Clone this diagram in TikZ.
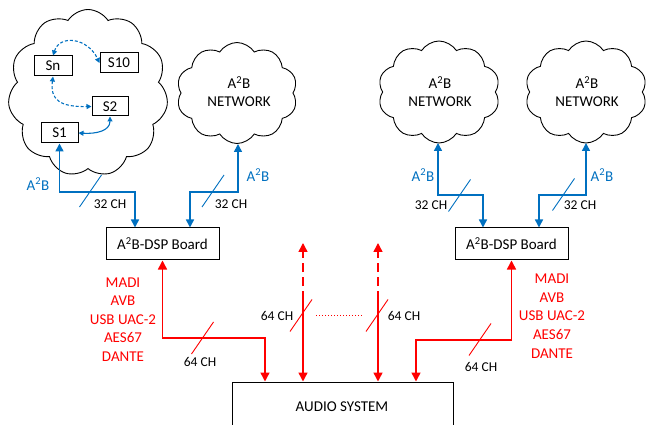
\documentclass[tikz,border=0pt]{standalone}
\usepackage{fontspec}
\setmainfont{Carlito}
\usetikzlibrary{arrows.meta,shapes.symbols}
\definecolor{ablue}{RGB}{0,112,192}
\definecolor{ared}{RGB}{255,0,0}
\begin{document}
\begin{tikzpicture}[x=1pt,y=-1pt,
  txt/.style={font=\fontsize{15}{18}\selectfont},
  chtxt/.style={font=\fontsize{13.5}{16}\selectfont},
  box/.style={draw,line width=1pt,inner sep=0pt,txt},
  cloudshape/.style={draw,cloud,cloud ignores aspect,line width=0.9pt,inner sep=0pt},
  btip/.style={Triangle[length=8pt,width=8pt]},
  rtip/.style={Triangle[length=9pt,width=9pt]},
  stip/.style={Triangle[length=5pt,width=5pt]},
  bluewire/.style={draw=ablue,line width=1.5pt,{Triangle[length=8pt,width=8pt]}-{Triangle[length=8pt,width=8pt]}},
  redwire/.style={draw=ared,line width=1.5pt},
  slashline/.style={line width=0.9pt},
  innerlink/.style={draw=ablue,line width=1.1pt},
  bluelabel/.style={txt,text=ablue,inner sep=0pt},
  redlabel/.style={font=\fontsize{15}{18.6}\selectfont,text=ared,align=center,inner sep=0pt},
]
\useasboundingbox (0,0) rectangle (646,425);

% clouds
\node[cloudshape,cloud puffs=11,cloud puff arc=115,minimum width=160pt,minimum height=167pt] (cl1) at (88,93) {};
\node[cloudshape,cloud puffs=10,cloud puff arc=115,minimum width=121pt,minimum height=101pt] (cl2) at (237,93) {};
\node[cloudshape,cloud puffs=10,cloud puff arc=115,minimum width=122pt,minimum height=102pt] (cl3) at (439,92) {};
\node[cloudshape,cloud puffs=10,cloud puff arc=115,minimum width=122pt,minimum height=102pt] (cl4) at (586,92) {};

\node[txt,align=center,inner sep=0pt] (n2) at (239,92) {A\textsuperscript{2}B\\NETWORK};
\node[txt,align=center,inner sep=0pt] (n3) at (440,92) {A\textsuperscript{2}B\\NETWORK};
\node[txt,align=center,inner sep=0pt] (n4) at (587,92) {A\textsuperscript{2}B\\NETWORK};

% slave boxes
\node[box,minimum width=38pt,minimum height=20pt] (Sn) at (53,66) {Sn};
\node[box,minimum width=38pt,minimum height=20pt] (S10) at (119,63) {S10};
\node[box,minimum width=36pt,minimum height=19pt] (S2) at (110,106.5) {S2};
\node[box,minimum width=37pt,minimum height=20pt] (S1) at (59.5,133) {S1};

\draw[innerlink,dash pattern=on 3pt off 2pt,{Triangle[length=5pt,width=5pt]}-{Triangle[length=5pt,width=5pt]}]
  (Sn.north) .. controls (60,34) and (88,38) .. (S10.west);
\draw[innerlink,dash pattern=on 3pt off 2pt,{Triangle[length=5pt,width=5pt]}-{Triangle[length=5pt,width=5pt]}]
  (Sn.south) .. controls (50,100) and (60,107) .. (S2.west);
\draw[innerlink,{Triangle[length=5pt,width=5pt]}-{Triangle[length=5pt,width=5pt]}]
  (S1.east) .. controls (96,134) and (110,131) .. (S2.south);

% DSP boards and audio system
\node[box,minimum width=113pt,minimum height=32pt] (dspL) at (162.5,244) {A\textsuperscript{2}B-DSP Board};
\node[box,minimum width=113pt,minimum height=32pt] (dspR) at (511.5,244) {A\textsuperscript{2}B-DSP Board};
\node[box,minimum width=221pt,minimum height=58pt,text depth=0pt] (audio) at (342.5,411) {};
\node[txt,inner sep=0pt] (audiotxt) at (342,407) {AUDIO SYSTEM};

% blue wiring
\coordinate (c2b) at (238,144);
\coordinate (c3b) at (438,143);
\coordinate (c4b) at (586,143);
\coordinate (b1) at (135,192);
\coordinate (b2) at (190,192);
\coordinate (b3) at (483,195);
\coordinate (b4) at (539,195);
\draw[bluewire] (S1.south) |- (b1) -- (b1 |- dspL.north);
\draw[bluewire] (c2b) |- (b2) -- (b2 |- dspL.north);
\draw[bluewire] (c3b) |- (b3) -- (b3 |- dspR.north);
\draw[bluewire] (c4b) |- (b4) -- (b4 |- dspR.north);

\coordinate (s1) at (90.5,191);
\coordinate (s2) at (213,191);
\coordinate (s3) at (459.5,195.5);
\coordinate (s4) at (563.5,194.5);
\foreach \s in {s1,s2,s3,s4}{\draw[ablue,slashline] (\s) +(-11,16) -- +(11,-16);}

\node[bluelabel] (la1) at (38,184) {A\textsuperscript{2}B};
\node[bluelabel] (la2) at (258,175) {A\textsuperscript{2}B};
\node[bluelabel] (la3) at (423,175) {A\textsuperscript{2}B};
\node[bluelabel] (la4) at (602,175) {A\textsuperscript{2}B};

\node[chtxt,inner sep=0pt] (ch1) at (110,204) {32 CH};
\node[chtxt,inner sep=0pt] (ch2) at (231,204) {32 CH};
\node[chtxt,inner sep=0pt] (ch3) at (431,205) {32 CH};
\node[chtxt,inner sep=0pt] (ch4) at (580,205) {32 CH};

% red wiring
\coordinate (r1) at (265,338);
\coordinate (r2) at (416,340);
\draw[redwire,{Triangle[length=9pt,width=9pt]}-{Triangle[length=9pt,width=9pt]}] (dspL.south) |- (r1) -- (r1 |- audio.north);
\draw[redwire,{Triangle[length=9pt,width=9pt]}-{Triangle[length=9pt,width=9pt]}] (dspR.south) |- (r2) -- (r2 |- audio.north);

\coordinate (t1) at (303,243);
\coordinate (m1) at (303,300);
\coordinate (t2) at (378,243);
\coordinate (m2) at (378,300);
\draw[redwire,dash pattern=on 9pt off 5pt,-{Triangle[length=9pt,width=9pt]}] (m1) -- (t1);
\draw[redwire,-{Triangle[length=9pt,width=9pt]}] (m1) -- (m1 |- audio.north);
\draw[redwire,dash pattern=on 9pt off 5pt,-{Triangle[length=9pt,width=9pt]}] (m2) -- (t2);
\draw[redwire,-{Triangle[length=9pt,width=9pt]}] (m2) -- (m2 |- audio.north);

\coordinate (d1) at (316,315);
\coordinate (d2) at (363,315);
\draw[ared,line width=0.7pt,dash pattern=on 1pt off 2pt] (d1) -- (d2);

\coordinate (s5) at (202.5,338);
\coordinate (s6) at (301,315.5);
\coordinate (s7) at (377,315.5);
\coordinate (s8) at (480,339.5);
\foreach \s in {s5,s6,s7,s8}{\draw[ared,slashline] (\s) +(-11,16) -- +(11,-16);}

\node[chtxt,inner sep=0pt] (ch5) at (200,362) {64 CH};
\node[chtxt,inner sep=0pt] (ch6) at (277,316) {64 CH};
\node[chtxt,inner sep=0pt] (ch7) at (404,316) {64 CH};
\node[chtxt,inner sep=0pt] (ch8) at (481,367) {64 CH};

\node[redlabel] (protoL) at (123,319.5) {MADI\\AVB\\USB UAC-2\\AES67\\DANTE};
\node[redlabel] (protoR) at (552,316) {MADI\\AVB\\USB UAC-2\\AES67\\DANTE};
\end{tikzpicture}
\end{document}
